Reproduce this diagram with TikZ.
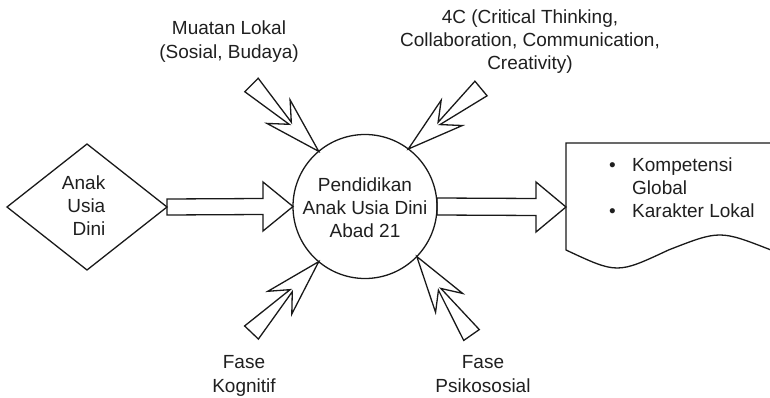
\documentclass[tikz,border=0pt]{standalone}
\usepackage{fontspec}
\setmainfont{Liberation Sans}
\usetikzlibrary{calc,shapes.geometric}

% tapered arrow with a swept-back head: #1 tail coordinate, #2 tip coordinate
\newcommand\wedgearrow[2]{%
  \path ($(#2)!56.5pt!(#1)$) coordinate (wa-barb)
        ($(#2)!40pt!(#1)$) coordinate (wa-notch);
  \draw[ink] ($(#1)!9.5pt!90:(#2)$)
    -- ($(wa-notch)!1.5pt!90:(#2)$)
    -- ($(wa-barb)!16.5pt!90:(#2)$)
    -- (#2)
    -- ($(wa-barb)!16.5pt!-90:(#2)$)
    -- ($(wa-notch)!1.5pt!-90:(#2)$)
    -- ($(#1)!9.5pt!-90:(#2)$) -- cycle;
}
% horizontal block arrow: #1 start, #2 tip, #3 shaft half width, #4 head half width
\newcommand\blockarrow[4]{%
  \draw[ink] ($(#1)+(0,-#3)$) -- ($(#2)+(-30,-#3)$) -- ($(#2)+(-30,-#4)$)
    -- (#2) -- ($(#2)+(-30,#4)$) -- ($(#2)+(-30,#3)$) -- ($(#1)+(0,#3)$) -- cycle;
}

\begin{document}
\begin{tikzpicture}[x=1pt,y=-1pt,
  ink/.style={draw=black!90, line width=1.3pt, line join=miter},
  lbl/.style={font=\fontsize{19}{23}\selectfont, text=black!88, inner sep=0pt, align=center},
  lbltwo/.style={lbl, font=\fontsize{19}{24.5}\selectfont}]
\useasboundingbox (0,0) rectangle (770,398);

% central circle and its text
\node[ink, circle, minimum size=144pt, inner sep=0pt, outer sep=0pt] (edu) at (365,206.5) {};
\node[lbl, anchor=north] (edutext) at (365,178)
  {Pendidikan\\Anak Usia Dini\\Abad 21};

% input diamond
\node[ink, diamond, minimum width=160pt, minimum height=126pt, inner sep=0pt, outer sep=0pt] (anak) at (87,207) {};
\node[lbl, align=right, anchor=north east] (anaktext) at (105.5,176) {Anak\\Usia\\Dini};

% output document with wavy bottom
\draw[ink] (566,143) -- (771,143) -- (771,250)
  .. controls (719.75,230) .. (668.5,250)
  .. controls (617.25,274) .. (566,250) -- cycle;
\coordinate (doc) at (566,207);
\node[lbl, align=left, anchor=north west] (doctext) at (609,158)
  {\makebox[23pt][l]{•}Kompetensi\\\hspace*{23pt}Global\\\makebox[23pt][l]{•}Karakter Lokal};

% influence labels
\node[lbltwo, anchor=north] (muatan) at (229,20.5) {Muatan Lokal\\(Sosial, Budaya)};
\node[lbl, anchor=north] (fourc) at (530,10)
  {4C (Critical Thinking,\\Collaboration, Communication,\\Creativity)};
\node[lbltwo, anchor=north] (kognitif) at (244,355) {Fase\\Kognitif};
\node[lbltwo, anchor=north] (psiko) at (483,355) {Fase\\Psikososial};

% arrow tails
\coordinate (tlTail) at (251.5,85);
\coordinate (trTail) at (481,88.5);
\coordinate (blTail) at (251.5,332.5);
\coordinate (brTail) at (471.5,335);

% main flow
\blockarrow{anak.east}{edu.west}{8}{24.5}
\blockarrow{edu.east}{doc}{8.5}{25}

% influences pointing at the centre
\wedgearrow{tlTail}{edu.130}
\wedgearrow{trTail}{edu.53}
\wedgearrow{blTail}{edu.230}
\wedgearrow{brTail}{edu.316}
\end{tikzpicture}
\end{document}
